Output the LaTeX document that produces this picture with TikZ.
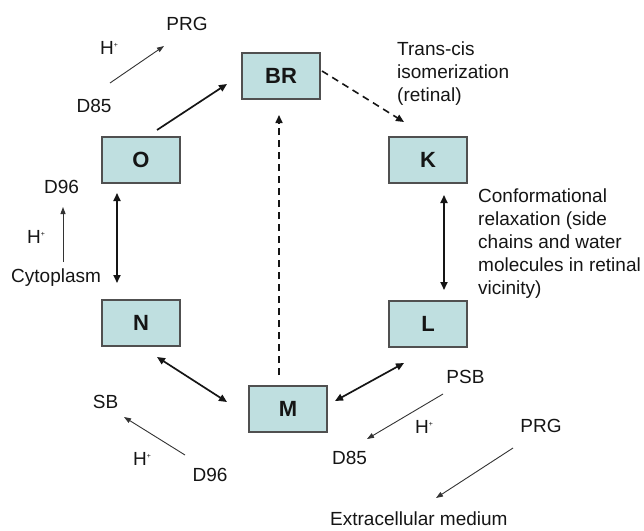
\documentclass[tikz,border=0pt]{standalone}
\usepackage{fontspec}
\setmainfont{Liberation Sans}
\usetikzlibrary{arrows.meta}
\definecolor{boxfill}{HTML}{BFDFE0}
\definecolor{boxedge}{HTML}{505050}
\definecolor{ink}{HTML}{151515}
\definecolor{thinink}{HTML}{333333}
\begin{document}
\begin{tikzpicture}[x=1pt,y=-1pt,
  stbox/.style={draw=boxedge,fill=boxfill,line width=1.1pt,minimum width=78pt,minimum height=46pt,inner sep=0pt,text=ink,font=\fontsize{22}{26}\selectfont\bfseries},
  lbl/.style={inner sep=0pt,text=ink,font=\fontsize{19}{23}\selectfont},
  bigarrow/.style={draw=ink,line width=1.7pt,-{Triangle[length=8pt,width=7pt]}},
  bigboth/.style={draw=ink,line width=1.7pt,{Triangle[length=8pt,width=7pt]}-{Triangle[length=8pt,width=7pt]}},
  bigdash/.style={draw=ink,line width=1.6pt,dash pattern=on 7pt off 5pt,-{Triangle[length=8pt,width=7pt]}},
  thinarrow/.style={draw=thinink,line width=0.9pt,-{Triangle[length=7pt,width=5pt]}}]
\useasboundingbox (0,0) rectangle (644,530);
% states
\node[stbox] (BR) at (281,76) {BR};
\node[stbox] (O) at (141,160) {O};
\node[stbox] (K) at (428,160) {K};
\node[stbox] (N) at (141,323) {N};
\node[stbox] (L) at (428,324) {L};
\node[stbox] (M) at (288,409) {M};
% connector end points
\coordinate (obr1) at (157,130);
\coordinate (obr2) at (227,84);
\coordinate (brk1) at (322,71);
\coordinate (brk2) at (404,122);
\coordinate (mbr1) at (279,375);
\coordinate (mbr2) at (279,115);
\coordinate (kl1) at (444,195);
\coordinate (kl2) at (444,290);
\coordinate (on1) at (117,193);
\coordinate (on2) at (117,283);
\coordinate (nm1) at (157,357);
\coordinate (nm2) at (227,402);
\coordinate (lm1) at (404,363);
\coordinate (lm2) at (335,401);
% cycle connectors
\draw[bigarrow] (obr1) -- (obr2);
\draw[bigdash] (brk1) -- (brk2);
\draw[bigdash] (mbr1) -- (mbr2);
\draw[bigboth] (kl1) -- (kl2);
\draw[bigboth] (on1) -- (on2);
\draw[bigboth] (nm1) -- (nm2);
\draw[bigboth] (lm1) -- (lm2);
% labels
\node[lbl,anchor=base] (prgtop) at (187,30) {PRG};
\node[lbl,anchor=base west] (htop) at (100,54) {H\textsuperscript{\scriptsize+}};
\node[lbl,anchor=base] (dtop) at (94,112) {D85};
\node[lbl,anchor=base] (d96top) at (61.5,193) {D96};
\node[lbl,anchor=base west] (hleft) at (27,243) {H\textsuperscript{\scriptsize+}};
\node[lbl,anchor=base west] (cyto) at (11,282) {Cytoplasm};
\node[lbl,anchor=base] (sb) at (105.5,408) {SB};
\node[lbl,anchor=base west] (hbl) at (133,465) {H\textsuperscript{\scriptsize+}};
\node[lbl,anchor=base] (d96bot) at (210,481) {D96};
\node[lbl,anchor=base] (psb) at (465.5,383) {PSB};
\node[lbl,anchor=base west] (hbr) at (415,433) {H\textsuperscript{\scriptsize+}};
\node[lbl,anchor=base west] (d85bot) at (332,464) {D85};
\node[lbl,anchor=base] (prgbot) at (541,432) {PRG};
\node[lbl,anchor=base west] (extra) at (330,525) {Extracellular medium};
\node[lbl,anchor=north west,align=left] (trans) at (397,42) {Trans-cis\\isomerization\\(retinal)};
\node[lbl,anchor=north west,align=left] (conf) at (478,189) {Conformational\\relaxation (side\\chains and water\\molecules in retinal\\vicinity)};
% proton transfer arrows
\coordinate (a1s) at (110,83);
\coordinate (a1e) at (164,46);
\coordinate (a2s) at (63,262);
\coordinate (a2e) at (63,207);
\coordinate (a3s) at (185,455);
\coordinate (a3e) at (124,417);
\coordinate (a4s) at (443,394);
\coordinate (a4e) at (367,439);
\coordinate (a5s) at (513,448);
\coordinate (a5e) at (436,498);
\draw[thinarrow] (a1s) -- (a1e);
\draw[thinarrow] (a2s) -- (a2e);
\draw[thinarrow] (a3s) -- (a3e);
\draw[thinarrow] (a4s) -- (a4e);
\draw[thinarrow] (a5s) -- (a5e);
\end{tikzpicture}
\end{document}
